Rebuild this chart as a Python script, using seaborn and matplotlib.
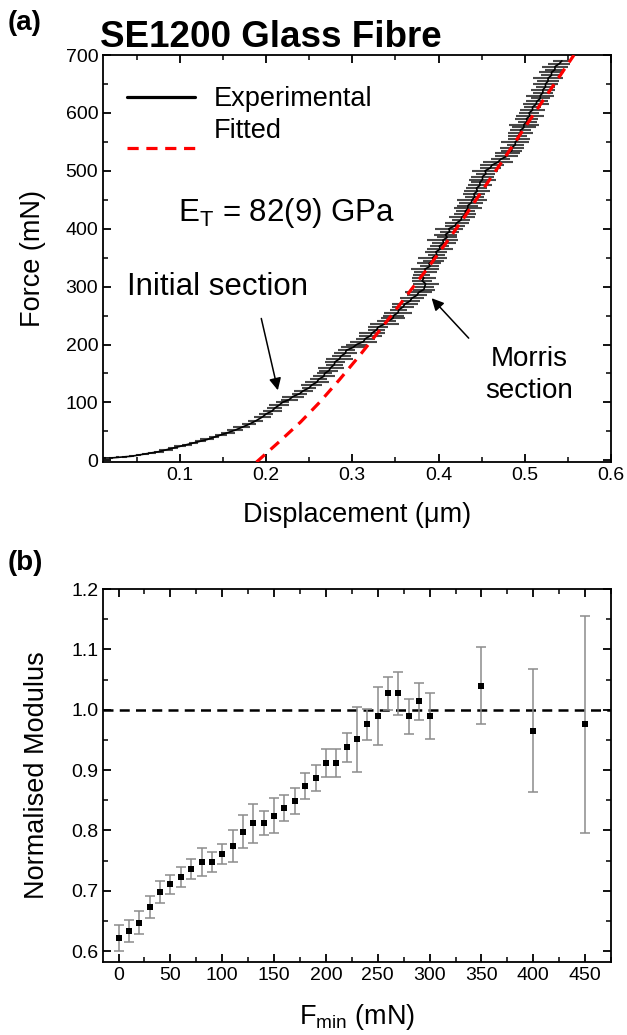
import matplotlib
matplotlib.use("Agg")
import numpy as np
import matplotlib.pyplot as plt
from matplotlib.legend_handler import HandlerLine2D
from matplotlib.ticker import MultipleLocator, FormatStrFormatter
import seaborn as sns

# ---------------- (a) force-displacement data ----------------
# Experimental loading curve: displacement (um), force (mN), horizontal uncertainty (um)
exp_disp = [
    0.012, 0.020, 0.028, 0.036, 0.044, 0.052, 0.060, 0.068, 0.076, 0.084,
    0.092, 0.100, 0.108, 0.116, 0.124, 0.132, 0.140, 0.148, 0.156, 0.164,
    0.172, 0.180, 0.188, 0.196,
    0.200, 0.207, 0.210, 0.215, 0.219, 0.227, 0.231, 0.239, 0.243, 0.250,
    0.253, 0.259, 0.261, 0.267, 0.268, 0.273, 0.275, 0.279, 0.280, 0.285,
    0.287, 0.292, 0.293, 0.301, 0.305, 0.313, 0.315, 0.321, 0.323, 0.328,
    0.330, 0.337, 0.340, 0.347, 0.348, 0.353, 0.354, 0.359, 0.361, 0.367,
    0.369, 0.375, 0.377, 0.383, 0.384, 0.385, 0.381, 0.383, 0.380, 0.385,
    0.384, 0.390, 0.389, 0.394, 0.393, 0.398, 0.397, 0.402, 0.401, 0.406,
    0.405, 0.410, 0.408, 0.413, 0.412, 0.419, 0.421, 0.426, 0.427, 0.431,
    0.431, 0.434, 0.434, 0.438, 0.439, 0.442, 0.441, 0.445, 0.444, 0.448,
    0.448, 0.451, 0.451, 0.455, 0.454, 0.460, 0.462, 0.469, 0.472, 0.479,
    0.480, 0.485, 0.485, 0.489, 0.489, 0.493, 0.492, 0.495, 0.495, 0.499,
    0.499, 0.503, 0.502, 0.506, 0.505, 0.509, 0.509, 0.513, 0.514, 0.518,
    0.518, 0.521, 0.521, 0.524, 0.524, 0.527, 0.527, 0.531, 0.531, 0.535,
    0.535, 0.540, 0.543,
]
exp_force = [
    4, 4, 5, 6, 7, 9, 11, 13, 15, 18,
    21, 24, 27, 30, 33, 36, 40, 44, 48, 52,
    57, 62, 68, 75,
    80, 85, 90, 95, 100, 105, 110, 115, 120, 125,
    130, 135, 140, 145, 150, 155, 160, 165, 170, 175,
    180, 185, 190, 195, 200, 205, 210, 215, 220, 225,
    230, 235, 240, 245, 250, 255, 260, 265, 270, 275,
    280, 285, 290, 295, 300, 305, 310, 315, 320, 325,
    330, 335, 340, 345, 350, 355, 360, 365, 370, 375,
    380, 385, 390, 395, 400, 405, 410, 415, 420, 425,
    430, 435, 440, 445, 450, 455, 460, 465, 470, 475,
    480, 485, 490, 495, 500, 505, 510, 515, 520, 525,
    530, 535, 540, 545, 550, 555, 560, 565, 570, 575,
    580, 585, 590, 595, 600, 605, 610, 615, 620, 625,
    630, 635, 640, 645, 650, 655, 660, 665, 670, 675,
    680, 685, 690,
]
exp_err = [
    0.002, 0.002, 0.002, 0.003, 0.003, 0.003, 0.004, 0.005, 0.006, 0.008,
    0.006, 0.007, 0.006, 0.005, 0.006, 0.008, 0.006, 0.007, 0.008, 0.009,
    0.010, 0.008, 0.009, 0.010,
    0.008, 0.011, 0.009, 0.012, 0.008, 0.010, 0.013, 0.009, 0.011, 0.008,
    0.012, 0.014, 0.010, 0.013, 0.009, 0.011, 0.015, 0.010, 0.012, 0.016,
    0.011, 0.013, 0.010, 0.014, 0.012, 0.016, 0.011, 0.013, 0.015, 0.010,
    0.012, 0.017, 0.011, 0.014, 0.012, 0.016, 0.010, 0.013, 0.015, 0.011,
    0.014, 0.012, 0.016, 0.013, 0.011, 0.015, 0.012, 0.014, 0.010, 0.013,
    0.016, 0.011, 0.014, 0.012, 0.017, 0.010, 0.013, 0.015, 0.011, 0.014,
    0.018, 0.012, 0.013, 0.011, 0.016, 0.012, 0.014, 0.010, 0.015, 0.013,
    0.011, 0.016, 0.012, 0.014, 0.017, 0.011, 0.013, 0.015, 0.012, 0.014,
    0.010, 0.016, 0.013, 0.011, 0.015, 0.012, 0.014, 0.017, 0.011, 0.013,
    0.015, 0.012, 0.014, 0.010, 0.016, 0.013, 0.011, 0.015, 0.012, 0.014,
    0.017, 0.011, 0.013, 0.016, 0.012, 0.014, 0.010, 0.015, 0.013, 0.011,
    0.016, 0.012, 0.014, 0.011, 0.015, 0.013, 0.017, 0.012, 0.014, 0.011,
    0.015, 0.013, 0.010,
]

# Fitted (Morris) curve
fit_disp = [0.189, 0.216, 0.240, 0.262, 0.285, 0.308, 0.331, 0.350, 0.370,
            0.389, 0.410, 0.430, 0.458, 0.480, 0.501, 0.520, 0.543, 0.557]
fit_force = [-3, 33, 66, 100, 139, 180, 223, 259, 298,
             335, 378, 420, 482, 530, 577, 619, 669, 700]

# ---------------- (b) normalised modulus vs F_min ----------------
fmin = [0, 10, 20, 30, 40, 50, 60, 70, 80, 90, 100, 110, 120, 130, 140, 150,
        160, 170, 180, 190, 200, 210, 220, 230, 240, 250, 260, 270, 280, 290,
        300, 350, 400, 450]
modulus = [0.622, 0.634, 0.647, 0.673, 0.698, 0.711, 0.723, 0.736, 0.748,
           0.748, 0.761, 0.774, 0.798, 0.812, 0.812, 0.824, 0.837, 0.849,
           0.874, 0.887, 0.912, 0.912, 0.938, 0.951, 0.976, 0.989, 1.027,
           1.027, 0.989, 1.014, 0.989, 1.040, 0.965, 0.976]
modulus_err = [0.022, 0.018, 0.019, 0.018, 0.018, 0.016, 0.016, 0.016, 0.023,
               0.017, 0.017, 0.026, 0.027, 0.032, 0.020, 0.029, 0.021, 0.021,
               0.022, 0.022, 0.023, 0.023, 0.024, 0.054, 0.026, 0.048, 0.028,
               0.035, 0.029, 0.031, 0.038, 0.064, 0.102, 0.180]


class LoweredLineHandler(HandlerLine2D):
    """Legend line handle drawn a little below its label."""

    def __init__(self, drop=0.0, **kw):
        super().__init__(**kw)
        self.drop = drop

    def create_artists(self, legend, orig_handle, xdescent, ydescent,
                       width, height, fontsize, trans):
        artists = super().create_artists(legend, orig_handle, xdescent, ydescent,
                                         width, height, fontsize, trans)
        for a in artists:
            a.set_ydata(np.asarray(a.get_ydata(), dtype=float) - self.drop)
        return artists


# ---------------- style ----------------
sns.set_theme(style="ticks")
plt.rcParams["font.family"] = ["Liberation Sans", "DejaVu Sans"]
plt.rcParams.update({
    "mathtext.default": "regular",
    "text.color": "black",
    "axes.labelcolor": "black",
    "axes.linewidth": 1.3,
    "axes.edgecolor": "black",
    "xtick.direction": "in",
    "ytick.direction": "in",
    "xtick.top": True,
    "ytick.right": True,
    "xtick.major.size": 6,
    "ytick.major.size": 6,
    "xtick.minor.size": 3.5,
    "ytick.minor.size": 3.5,
    "xtick.major.width": 1.3,
    "ytick.major.width": 1.3,
    "xtick.minor.width": 1.1,
    "ytick.minor.width": 1.1,
    "xtick.color": "black",
    "ytick.color": "black",
    "xtick.labelcolor": "black",
    "ytick.labelcolor": "black",
    "xtick.labelsize": 14,
    "ytick.labelsize": 14,
})

fig = plt.figure(figsize=(6.27, 10.35), dpi=100)
ax1 = fig.add_axes([0.1643, 0.5536, 0.8102, 0.3932])
ax2 = fig.add_axes([0.1643, 0.0705, 0.8102, 0.3604])

# ---- panel (a) ----
ax1.errorbar(exp_disp, exp_force, xerr=exp_err, fmt="none",
             ecolor="#1a1a1a", elinewidth=1.5, alpha=0.8, capsize=0, zorder=2)
sns.lineplot(x=exp_disp, y=exp_force, sort=False, estimator=None,
             color="black", linewidth=1.2, ax=ax1, label="Experimental", zorder=3)
sns.lineplot(x=fit_disp, y=fit_force, sort=False, estimator=None,
             color="#ff0000", linewidth=2.3, ax=ax1, label="Fitted", zorder=4)
exp_line, fit_line = ax1.lines[-2], ax1.lines[-1]
fit_line.set_dashes((3.5, 2.4))

ax1.set_xlim(0.011, 0.6)
ax1.set_ylim(-3, 700)
ax1.xaxis.set_major_locator(MultipleLocator(0.1))
ax1.xaxis.set_minor_locator(MultipleLocator(0.05))
ax1.xaxis.set_major_formatter(FormatStrFormatter("%.1f"))
ax1.yaxis.set_major_locator(MultipleLocator(100))
ax1.yaxis.set_minor_locator(MultipleLocator(50))
ax1.tick_params(which="both", top=True, right=True, labeltop=False, labelright=False)
ax1.set_xlabel("Displacement (\u03bcm)", fontsize=19.5, labelpad=13)
ax1.set_ylabel("Force (mN)", fontsize=19.5, labelpad=14)

leg = ax1.legend(handles=[exp_line, fit_line], labels=["Experimental", "Fitted"],
                 handler_map={fit_line: LoweredLineHandler(drop=14)},
                 loc="upper left", bbox_to_anchor=(0.0, 0.983), frameon=False,
                 fontsize=19.5, handlelength=2.5, handletextpad=0.68, labelspacing=0.22)
for h in leg.get_lines():
    h.set_linewidth(2.3)
leg.get_lines()[1].set_dashes((3.5, 2.4))

ax1.text(0.098, 427, "E$_\\mathregular{T}$ = 82(9) GPa", fontsize=22.5,
         ha="left", va="center")
ax1.text(0.039, 299, "Initial section", fontsize=22.5, ha="left", va="center")
ax1.text(0.505, 147, "Morris\nsection", fontsize=20, ha="center", va="center",
         linespacing=1.3)
ax1.annotate("", xy=(0.2137, 121), xytext=(0.1945, 245),
             arrowprops=dict(arrowstyle="-|>", color="black", lw=1.1,
                             mutation_scale=18, shrinkA=0, shrinkB=0))
ax1.annotate("", xy=(0.392, 280), xytext=(0.435, 211),
             arrowprops=dict(arrowstyle="-|>", color="black", lw=1.1,
                             mutation_scale=18, shrinkA=0, shrinkB=0))

# ---- panel (b) ----
ax2.axhline(1.0, color="black", linewidth=1.8, dashes=(4, 2.5), zorder=1)
ax2.errorbar(fmin, modulus, yerr=modulus_err, fmt="none", ecolor="#8c8c8c",
             elinewidth=1.1, capsize=3.5, capthick=1.1, zorder=2)
sns.scatterplot(x=fmin, y=modulus, marker="s", s=22, color="black",
                edgecolor="black", linewidth=0, ax=ax2, zorder=3)

ax2.set_xlim(-15, 475)
ax2.set_ylim(0.582, 1.2)
ax2.xaxis.set_major_locator(MultipleLocator(50))
ax2.xaxis.set_minor_locator(MultipleLocator(25))
ax2.yaxis.set_major_locator(MultipleLocator(0.1))
ax2.yaxis.set_minor_locator(MultipleLocator(0.05))
ax2.yaxis.set_major_formatter(FormatStrFormatter("%.1f"))
ax2.tick_params(which="both", top=True, right=True, labeltop=False, labelright=False)
ax2.set_xlabel("F$_\\mathregular{min}$ (mN)", fontsize=19.5, labelpad=13)
ax2.set_ylabel("Normalised Modulus", fontsize=19.5, labelpad=15)

# ---- titles and panel letters ----
fig.text(0.16, 0.9545, "SE1200 Glass Fibre", fontsize=26.5, fontweight="bold",
         ha="left", va="baseline")
fig.text(0.012, 0.971, "(a)", fontsize=20, fontweight="bold", ha="left", va="baseline")
fig.text(0.012, 0.449, "(b)", fontsize=20, fontweight="bold", ha="left", va="baseline")

fig.savefig("out.png", dpi=100)
